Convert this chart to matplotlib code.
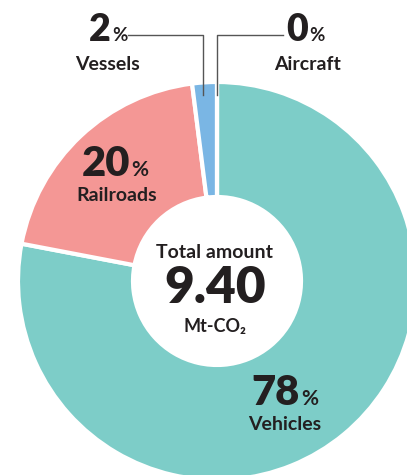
import matplotlib.pyplot as plt

# CO2 emissions by transport mode
labels = ["Vehicles", "Railroads", "Vessels", "Aircraft"]
shares = [78, 20, 2, 0]
colors = ["#7dcdc8", "#f49795", "#7ab6e4", "#7ab6e4"]
total = "9.40"

W, H = 407, 475
fig = plt.figure(figsize=(W / 100, H / 100), dpi=100)
ax = fig.add_axes([0, 0, 1, 1])

cx, cy, R = 217, H - 281, 199
ax.pie(shares, colors=colors, startangle=90, counterclock=False,
       center=(cx, cy), radius=R,
       wedgeprops=dict(width=R - 84, edgecolor="white", linewidth=3))
ax.set_xlim(0, W)
ax.set_ylim(0, H)
ax.set_aspect("equal")
ax.axis("off")

FONT = "Lato"
INK = "#231f20"


def y(p):
    return H - p


def pct(x, yb, value, size):
    # big number with a small percent sign next to it, sharing a baseline
    ax.text(x, y(yb), str(value), fontsize=size, fontweight="heavy",
            family=FONT, color=INK, ha="right", va="baseline")
    ax.text(x + 1, y(yb), "%", fontsize=size * 0.5, fontweight="bold",
            family=FONT, color=INK, ha="left", va="baseline")


def name(x, yb, s, size=14):
    ax.text(x, y(yb), s, fontsize=size, fontweight="bold", family=FONT,
            color=INK, ha="center", va="baseline")


# leader lines for the two small slices
ax.plot([128, 203, 203], [y(35), y(35), y(95)], color="#555555", lw=1)
ax.plot([217, 217, 283], [y(95), y(35), y(35)], color="#555555", lw=1)

pct(111, 41, shares[2], 27)
name(107, 70, labels[2])
pct(308, 41, shares[3], 27)
name(308, 70, labels[3])

pct(130, 176, shares[1], 30)
name(117, 201, labels[1])

pct(300, 405, shares[0], 30)
name(285, 430, labels[0])

name(215, 258, "Total amount", 14)
ax.text(215, y(303), total, fontsize=37, fontweight="heavy", family=FONT,
        color=INK, ha="center", va="baseline")
name(215, 332, "Mt-CO₂", 13)

fig.savefig("out.png", dpi=100)
